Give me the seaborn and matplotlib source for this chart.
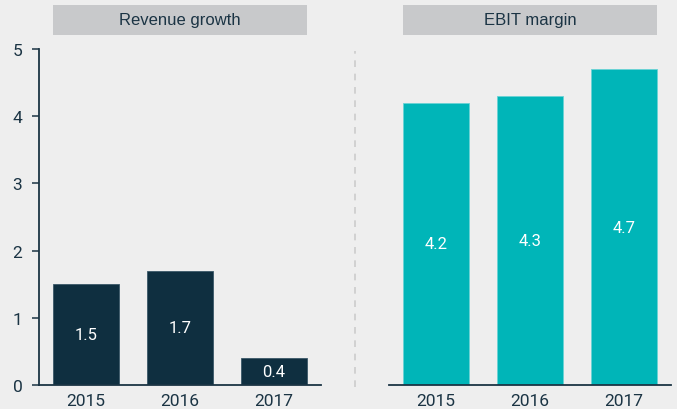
import seaborn as sns
import matplotlib.pyplot as plt
import pandas as pd
from matplotlib.patches import Rectangle
from matplotlib.lines import Line2D
import matplotlib.transforms as mtransforms

years = ['2015', '2016', '2017']
revenue_growth = [1.5, 1.7, 0.4]
ebit_margin = [4.2, 4.3, 4.7]
panel_titles = ['Revenue growth', 'EBIT margin']

bg = '#eeeeee'
dark = '#0f2f40'
teal = '#00b5b8'
ink = '#1b3444'

sns.set_style('white')
plt.rcParams['font.family'] = ['Roboto', 'DejaVu Sans']

fig = plt.figure(figsize=(6.77, 4.10), dpi=100, facecolor=bg)
ax1 = fig.add_axes([0.0576, 0.0585, 0.4165, 0.8195])
ax2 = fig.add_axes([0.5746, 0.0585, 0.4165, 0.8195])

df1 = pd.DataFrame({'year': years, 'value': revenue_growth})
df2 = pd.DataFrame({'year': years, 'value': ebit_margin})

bar_w = 0.71
sns.barplot(data=df1, x='year', y='value', color=dark, width=bar_w, ax=ax1,
            saturation=1, edgecolor='#3a5868', linewidth=0.6)
sns.barplot(data=df2, x='year', y='value', color=teal, width=bar_w, ax=ax2,
            saturation=1, edgecolor='#6ad3d5', linewidth=0.6)

for ax, title in zip([ax1, ax2], panel_titles):
    ax.set_facecolor(bg)
    ax.set_xlim(-0.5, 2.5)
    ax.set_ylim(0, 5)
    ax.set_xlabel('')
    ax.set_ylabel('')
    for c in ax.containers:
        ax.bar_label(c, fmt='%.1f', label_type='center', color='white', fontsize=12)
    ax.tick_params(axis='x', length=0, pad=6, labelsize=12.5, labelcolor=ink)
    for s in ['top', 'right']:
        ax.spines[s].set_visible(False)
    ax.spines['bottom'].set_color(ink)
    ax.spines['bottom'].set_linewidth(1.3)
    # title box spanning the bars
    trans = mtransforms.blended_transform_factory(ax.transData, ax.transAxes)
    ax.add_patch(Rectangle((-bar_w / 2, 1.042), 2 + bar_w, 0.089, transform=trans,
                           facecolor='#c8c9cb', edgecolor='none', clip_on=False))
    ax.text(1, 1.0865, title, transform=trans, ha='center', va='center',
            fontsize=12, color=ink, family=['Liberation Sans', 'DejaVu Sans'])

ax1.spines['left'].set_color(ink)
ax1.spines['left'].set_linewidth(1.3)
ax1.set_yticks([0, 1, 2, 3, 4, 5])
ax1.tick_params(axis='y', direction='out', length=5, width=1.1, color=ink,
                pad=7, labelsize=12.5, labelcolor=ink, left=True)

ax2.spines['left'].set_visible(False)
ax2.set_yticks([])

# dashed separator between panels
fig.add_artist(Line2D([0.5244, 0.5244], [0.0537, 0.873], transform=fig.transFigure,
                      color='#cccccc', linewidth=1.2, linestyle=(0, (4, 4))))

fig.savefig('out.png', dpi=100, facecolor=bg)
